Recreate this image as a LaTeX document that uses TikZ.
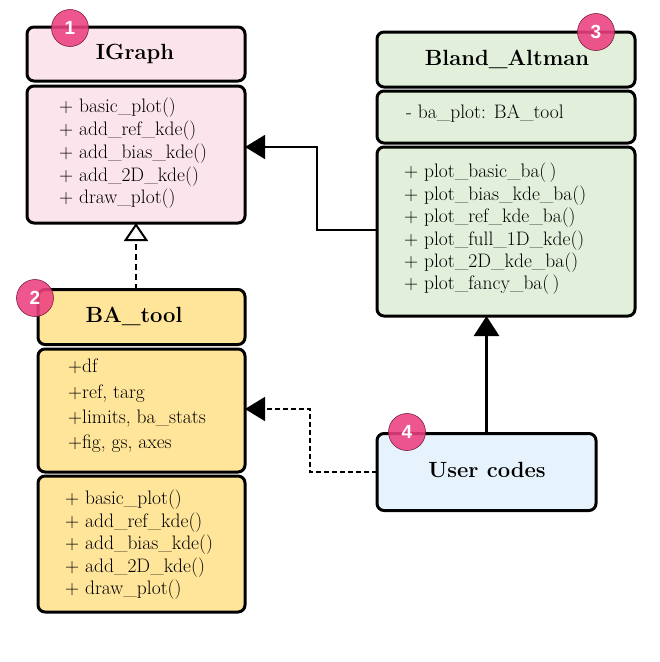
\documentclass[tikz,border=0pt]{standalone}
\usepackage{fontspec}
\newfontfamily\badgefont{Liberation Sans}
\usetikzlibrary{arrows.meta,calc}
\definecolor{pinkfill}{HTML}{FCE4EC}
\definecolor{greenfill}{HTML}{E2EFDA}
\definecolor{yellowfill}{HTML}{FFE599}
\definecolor{bluefill}{HTML}{E6F3FC}
\definecolor{badgefill}{HTML}{EC3F7F}
\definecolor{badgeline}{HTML}{7A1F3D}
\begin{document}
\begin{tikzpicture}[x=1pt,y=-1pt,
  box/.style={draw=black, line width=3pt, rounded corners=7pt, inner sep=0pt, outer sep=0pt},
  title/.style={font=\fontsize{22}{24}\selectfont\bfseries, inner sep=0pt},
  members/.style={font=\fontsize{19.5}{22.8}\selectfont, align=left, inner sep=0pt, anchor=west},
  badge/.style={circle, draw=badgeline, line width=0.6pt, fill=badgefill, fill opacity=0.88, text opacity=1,
    minimum size=37pt, inner sep=0pt, text=white, font=\badgefont\fontsize{19}{20}\selectfont\bfseries},
  thinarrow/.style={line width=1.4pt, -{Triangle[length=20pt,width=24pt]}},
  thickarrow/.style={line width=2.8pt, -{Triangle[length=20pt,width=25pt]}},
  thindash/.style={line width=1.4pt, dash pattern=on 5pt off 3pt, -{Triangle[length=20pt,width=24pt]}},
  thickdash/.style={line width=2.8pt, dash pattern=on 6pt off 4pt, -{Triangle[open,length=18pt,width=24pt,line width=2pt,fill=white]}}
]
\useasboundingbox (0,0) rectangle (660,662);

% IGraph
\node[box, fill=pinkfill, minimum width=218pt, minimum height=54pt] (ighead) at (136,54) {};
\node[box, fill=pinkfill, minimum width=218pt, minimum height=137pt] (igbody) at (136,154.5) {};
\node[title] (igtitle) at (135,54) {IGraph};
\node[members] (igtext) at (59,153.5) {+ basic\_plot()\\+ add\_ref\_kde()\\+ add\_bias\_kde()\\+ add\_\oldstylenums{2}D\_kde()\\+ draw\_plot()};

% Bland_Altman
\node[box, fill=greenfill, minimum width=258pt, minimum height=55pt] (blhead) at (506,59.5) {};
\node[box, fill=greenfill, minimum width=258pt, minimum height=52pt] (blattr) at (506,117) {};
\node[box, fill=greenfill, minimum width=258pt, minimum height=169pt] (blbody) at (506,231.5) {};
\node[title] (bltitle) at (507,59) {Bland\_Altman};
\node[members] (blattrtext) at (406,114) {- ba\_plot: BA\_tool};
\node[members, font=\fontsize{19.5}{22.4}\selectfont] (bltext) at (404,229) {+ plot\_basic\_ba(\,)\\+ plot\_bias\_kde\_ba()\\+ plot\_ref\_kde\_ba()\\+ plot\_full\_\oldstylenums{1}D\_kde()\\+ plot\_\oldstylenums{2}D\_kde\_ba()\\+ plot\_fancy\_ba(\,)};

% BA_tool
\node[box, fill=yellowfill, minimum width=207pt, minimum height=55pt] (bahead) at (141.5,317) {};
\node[box, fill=yellowfill, minimum width=207pt, minimum height=123pt] (baattr) at (141.5,410.5) {};
\node[box, fill=yellowfill, minimum width=207pt, minimum height=136pt] (babody) at (141.5,544) {};
\node[title] (batitle) at (134,316) {BA\_tool};
\node[members, font=\fontsize{19.5}{25.3}\selectfont] (baattrtext) at (68,406) {+df\\+ref, targ\\+limits, ba\_stats\\+fig, gs, axes};
\node[members, font=\fontsize{19.5}{22.5}\selectfont] (batext) at (65,545) {+ basic\_plot()\\+ add\_ref\_kde()\\+ add\_bias\_kde()\\+ add\_\oldstylenums{2}D\_kde()\\+ draw\_plot()};

% User codes
\node[box, fill=bluefill, minimum width=219pt, minimum height=77pt] (user) at (486.5,472) {};
\node[title] (usertitle) at (487,470) {User codes};

% connectors
\coordinate (c1) at (317,230);
\coordinate (c2) at (317,147);
\coordinate (c3) at (310,472);
\coordinate (c4) at (310,409);
\draw[thickdash] (bahead.north -| igbody.south) -- (igbody.south);
\draw[thinarrow] (blbody.west |- c1) -- (c1) -- (c2) -- (c2 -| igbody.east);
\draw[thickarrow] (user.north) -- (user.north |- blbody.south);
\draw[thindash] (user.west |- c3) -- (c3) -- (c4) -- (c4 -| baattr.east);

% badges
\node[badge] (b1) at (70,28) {1};
\node[badge] (b2) at (35,298) {2};
\node[badge] (b3) at (596,32) {3};
\node[badge] (b4) at (407,432) {4};
\end{tikzpicture}
\end{document}
